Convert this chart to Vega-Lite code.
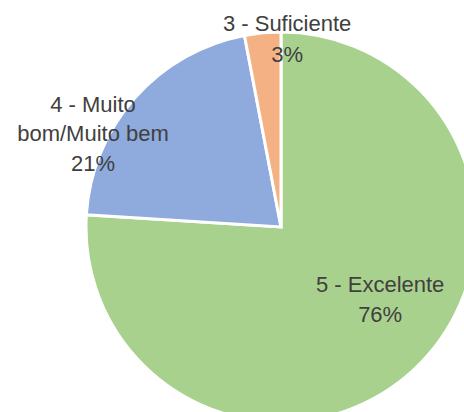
{
  "$schema": "https://vega.github.io/schema/vega-lite/v6.json",
  "width": 562,
  "height": 454,
  "autosize": {"type": "none"},
  "padding": {"left": 0, "top": 0, "right": -98, "bottom": -42},
  "background": "white",
  "view": {"stroke": null},
  "data": {
    "values": [
      {"category": "5 - Excelente", "value": 76, "label": "5 - Excelente\n76%", "order": 1},
      {"category": "4 - Muito bom/Muito bem", "value": 21, "label": "4 - Muito\nbom/Muito bem\n21%", "order": 2},
      {"category": "3 - Suficiente", "value": 3, "label": "3 - Suficiente\n3%", "order": 3}
    ]
  },
  "encoding": {
    "theta": {"field": "value", "type": "quantitative", "stack": true},
    "order": {"field": "order", "type": "quantitative"}
  },
  "layer": [
    {
      "mark": {"type": "arc", "radius": 195, "stroke": "white", "strokeWidth": 3},
      "encoding": {
        "color": {
          "field": "category",
          "type": "nominal",
          "scale": {
            "domain": ["5 - Excelente", "4 - Muito bom/Muito bem", "3 - Suficiente"],
            "range": ["#A9D18E", "#8FAADC", "#F4B183"]
          },
          "legend": null
        }
      }
    },
    {
      "mark": {"type": "text", "radius": 120, "dx": 17, "dy": -29, "font": "Liberation Sans", "fontSize": 22, "lineBreak": "\n", "lineHeight": 30, "fill": "#404040", "align": "center", "baseline": "middle"},
      "encoding": {
        "text": {"condition": {"test": "datum.order == 1", "field": "label"}, "value": ""}
      }
    },
    {
      "mark": {"type": "text", "radius": 200, "dx": -38, "dy": 10, "font": "Liberation Sans", "fontSize": 22, "lineBreak": "\n", "lineHeight": 29.5, "fill": "#404040", "align": "center", "baseline": "middle"},
      "encoding": {
        "text": {"condition": {"test": "datum.order == 2", "field": "label"}, "value": ""}
      }
    },
    {
      "mark": {"type": "text", "radius": 190, "dx": 24, "dy": -14, "font": "Liberation Sans", "fontSize": 22, "lineBreak": "\n", "lineHeight": 31, "fill": "#404040", "align": "center", "baseline": "middle"},
      "encoding": {
        "text": {"condition": {"test": "datum.order == 3", "field": "label"}, "value": ""}
      }
    }
  ]
}
